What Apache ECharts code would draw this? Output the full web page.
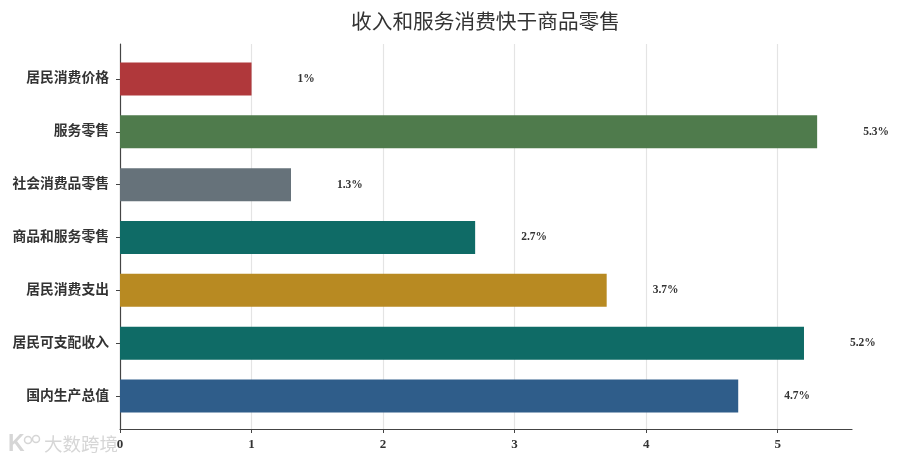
<!DOCTYPE html>
<html>
<head>
<meta charset="utf-8">
<style>
html,body{margin:0;padding:0;background:#fff;}
#main{width:900px;height:463px;}
</style>
<script src="https://cdn.jsdelivr.net/npm/echarts@6/dist/echarts.min.js"></script>
</head>
<body>
<div id="main"></div>
<script>
var categories = ['国内生产总值','居民可支配收入','居民消费支出','商品和服务零售','社会消费品零售','服务零售','居民消费价格'];
var values = [4.7, 5.2, 3.7, 2.7, 1.3, 5.3, 1];
var barColors = ['#2F5D8A','#0F6B66','#B88A22','#0F6B66','#66727A','#4F7B4C','#B0383B'];
var xTicks = [0, 1, 2, 3, 4, 5];
var titleText = '收入和服务消费快于商品零售';
var watermark = '大数跨境';

var labelFont = '"Liberation Serif","Noto Sans CJK SC",serif';
var xMax = 5.565;

var myChart = echarts.init(document.getElementById('main'));
var option = {
    animation: false,
    title: {
        text: titleText,
        left: 346,
        top: 6,
        textStyle: {
            fontFamily: '"Noto Sans CJK SC"',
            fontWeight: 'normal',
            fontSize: 20.7,
            color: '#333'
        }
    },
    // grid 0 carries the axis frame, grid 1 the bars (inset, as in the original)
    grid: [
        {left: 120, right: 48, top: 44, bottom: 34},
        {left: 120, right: 48, top: 52.5, bottom: 40.5}
    ],
    xAxis: [
        {
            type: 'value',
            gridIndex: 0,
            min: 0,
            max: xMax,
            interval: 1,
            axisLine: {show: true, onZero: false, lineStyle: {color: '#444', width: 1.2}},
            axisTick: {show: true, length: 4, lineStyle: {color: '#444'}},
            axisLabel: {
                color: '#333',
                fontFamily: labelFont,
                fontWeight: 'bold',
                fontSize: 13,
                margin: 9,
                showMaxLabel: false,
                formatter: function (v) { return xTicks.indexOf(v) >= 0 ? String(v) : ''; }
            },
            splitLine: {show: true, showMaxLine: false, showMinLine: false, lineStyle: {color: '#e4e4e4', width: 1.2}}
        },
        {
            type: 'value',
            gridIndex: 1,
            min: 0,
            max: xMax,
            show: false
        }
    ],
    yAxis: [
        {
            type: 'value',
            gridIndex: 0,
            min: 0,
            max: 1,
            axisLine: {show: true, lineStyle: {color: '#444', width: 1.2}},
            axisTick: {show: false},
            axisLabel: {show: false},
            splitLine: {show: false}
        },
        {
            type: 'category',
            gridIndex: 1,
            data: categories,
            axisLine: {show: false},
            axisTick: {show: true, length: 4, alignWithLabel: true, lineStyle: {color: '#444'}},
            axisLabel: {
                color: '#333',
                fontFamily: labelFont,
                fontWeight: 'bold',
                fontSize: 13.8,
                margin: 11
            }
        }
    ],
    series: [
        {
            type: 'bar',
            xAxisIndex: 1,
            yAxisIndex: 1,
            barWidth: 33,
            data: values.map(function (v, i) {
                return {value: v, itemStyle: {color: barColors[i]}};
            }),
            label: {
                show: true,
                position: 'right',
                distance: 46,
                color: '#333',
                fontFamily: labelFont,
                fontWeight: 'bold',
                fontSize: 11.5,
                formatter: function (p) { return p.value + '%'; }
            }
        }
    ],
    graphic: [
        {
            type: 'text',
            left: 44,
            top: 435,
            z: 10,
            style: {
                text: watermark,
                fill: '#d6d6d6',
                font: '18.5px "Noto Sans CJK SC"'
            }
        },
        {
            type: 'text',
            left: 8,
            top: 433,
            z: 10,
            style: {
                text: 'K',
                fill: '#d6d6d6',
                font: 'bold 23px "Liberation Sans"'
            }
        },
        {type: 'circle', z: 10, shape: {cx: 28, cy: 440, r: 3.5}, style: {fill: 'none', stroke: '#d6d6d6', lineWidth: 1.5}},
        {type: 'circle', z: 10, shape: {cx: 36, cy: 439, r: 3.5}, style: {fill: 'none', stroke: '#d6d6d6', lineWidth: 1.5}}
    ]
};
myChart.setOption(option);
</script>
</body>
</html>
